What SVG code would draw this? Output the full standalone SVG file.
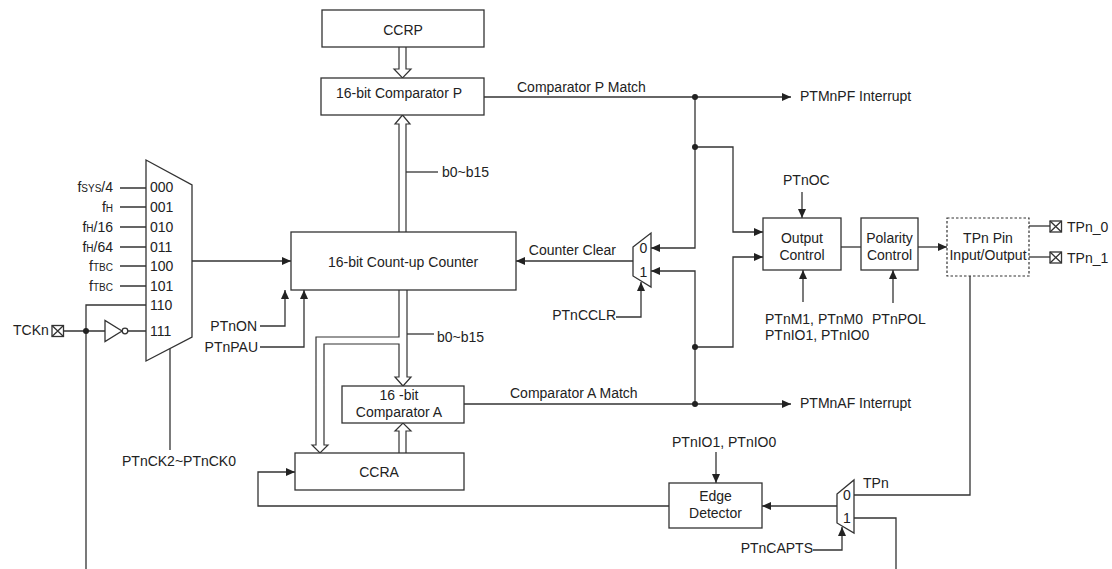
<svg xmlns="http://www.w3.org/2000/svg" width="1112" height="569" viewBox="0 0 1112 569">
<defs>
<marker id="ah" markerUnits="userSpaceOnUse" markerWidth="9" markerHeight="8" refX="9" refY="4" orient="auto">
<path d="M0,0 L9,4 L0,8 z" fill="#222"/>
</marker>
<style>
text{font-family:"Liberation Sans",Arial,sans-serif;font-size:14px;fill:#222}
.sm{font-size:10px}
.box{fill:#fff;stroke:#333;stroke-width:1.3}
.dash{fill:#fff;stroke:#333;stroke-width:1.2;stroke-dasharray:2.5,2}
.w{fill:none;stroke:#333;stroke-width:1.3}
.a{fill:none;stroke:#333;stroke-width:1.3;marker-end:url(#ah)}
.bus{fill:#fff;stroke:#333;stroke-width:1.2}
.dot{fill:#222}
.mid{text-anchor:middle}
.end{text-anchor:end}
</style>
</defs>
<rect width="1112" height="569" fill="#fff"/>

<g id="connectors">
<path class="a" d="M192,261 H291"/>
<path class="a" d="M260,326 H285 V290"/>
<path class="a" d="M260,347 H304 V290"/>
<path class="bus" d="M399,232 V124 H395 L402.5,115 L410,124 H406 V232"/>
<path class="bus" d="M399,47 V69 H394 L402.5,78 L411,69 H406 V47"/>
<path class="w" d="M406,172 H438"/>
<path class="bus" d="M399,290 V337 H316 V445 H312 L320,453 L328,445 H324 V344 H399 V377 H395 L403,386 L411,377 H407 V290"/>
<path class="w" d="M407,334 H434"/>
<path class="bus" d="M399,453 V431 H395 L403,423 L411,431 H406 V453"/>
<path class="a" d="M484,97 H791"/>
<path class="a" d="M464,404 H791"/>
<path class="a" d="M695,97 V248 H651"/>
<path class="a" d="M695,404 V271 H651"/>
<path class="a" d="M695,147 H733 V232 H763"/>
<path class="a" d="M695,347 H733 V257 H763"/>
<path class="a" d="M633,261 H516"/>
<path class="a" d="M616,317 H641 V282"/>
<path class="a" d="M802,192 V218"/>
<path class="a" d="M803,302 V270"/>
<path class="a" d="M893,303 V270"/>
<path class="w" d="M841,247 H861"/>
<path class="a" d="M918,247 H947"/>
<path class="w" d="M1029,226 H1050"/>
<path class="w" d="M1029,257 H1050"/>
<path class="w" d="M970,276 V495 H854"/>
<path class="w" d="M896,569 V518 H854"/>
<path class="a" d="M837,506 H762"/>
<path class="a" d="M716,452 V483"/>
<path class="a" d="M813,550 H842 V527"/>
<path class="a" d="M669,506 H258 V472 H295"/>
<path class="w" d="M120,188 H146 M120,207 H146 M120,227 H146 M120,247 H146 M120,266 H146 M120,286 H146"/>
<path class="w" d="M146,305 H86 V569"/>
<path class="w" d="M64,331 H105 M128,331 H146"/>
<path class="w" d="M170,348.5 V450"/>
<circle class="dot" cx="695" cy="97" r="3"/>
<circle class="dot" cx="695" cy="147" r="3"/>
<circle class="dot" cx="695" cy="347" r="3"/>
<circle class="dot" cx="695" cy="404" r="3"/>
<circle class="dot" cx="86" cy="331" r="3"/>
</g>

<g id="clock-mux">
<polygon class="box" points="146,160 192,185 192,337 146,361"/>
<text x="150" y="192">000</text>
<text x="150" y="212">001</text>
<text x="150" y="232">010</text>
<text x="150" y="252">011</text>
<text x="150" y="271">100</text>
<text x="150" y="291">101</text>
<text x="150" y="310">110</text>
<text x="150" y="336">111</text>
<text class="end" x="113" y="192">f<tspan class="sm">SYS</tspan>/4</text>
<text class="end" x="113" y="212">f<tspan class="sm">H</tspan></text>
<text class="end" x="113" y="232">f<tspan class="sm">H</tspan>/16</text>
<text class="end" x="113" y="252">f<tspan class="sm">H</tspan>/64</text>
<text class="end" x="113" y="271">f<tspan class="sm">TBC</tspan></text>
<text class="end" x="113" y="291">f<tspan class="sm">TBC</tspan></text>
<text class="mid" x="179" y="466">PTnCK2~PTnCK0</text>
</g>

<g id="tckn">
<text x="13" y="335">TCKn</text>
<rect class="box" x="52" y="325.5" width="11.5" height="11"/>
<path class="w" d="M52,325.5 L63.5,336.5 M63.5,325.5 L52,336.5"/>
</g>

<g id="inverter">
<polygon class="box" points="105,320.5 105,341.5 122,331"/>
<circle class="box" cx="125" cy="331" r="2.8"/>
</g>

<g id="ccrp">
<rect class="box" x="322" y="10" width="162" height="37"/>
<text class="mid" x="403" y="35">CCRP</text>
</g>

<g id="comparator-p">
<rect class="box" x="321" y="78" width="163" height="37"/>
<text class="mid" x="399" y="98">16-bit Comparator P</text>
</g>

<g id="counter">
<rect class="box" x="291" y="232" width="225" height="58"/>
<text class="mid" x="403" y="267">16-bit Count-up Counter</text>
</g>

<g id="comparator-a">
<rect class="box" x="342" y="386" width="122" height="37"/>
<text class="mid" x="399" y="400">16 -bit</text>
<text class="mid" x="399" y="417">Comparator A</text>
</g>

<g id="ccra">
<rect class="box" x="295" y="453" width="169" height="37"/>
<text class="mid" x="379" y="477">CCRA</text>
</g>

<g id="clear-mux">
<polygon class="box" points="633,247 651,233 651,287 633,276"/>
<text class="mid" x="643.5" y="253">0</text>
<text class="mid" x="643.5" y="277">1</text>
</g>

<g id="output-control">
<rect class="box" x="763" y="218" width="78" height="52"/>
<text class="mid" x="802" y="243">Output</text>
<text class="mid" x="802" y="260">Control</text>
</g>

<g id="polarity-control">
<rect class="box" x="861" y="218" width="57" height="52"/>
<text class="mid" x="889.5" y="243">Polarity</text>
<text class="mid" x="889.5" y="260">Control</text>
</g>

<g id="tpn-pin">
<rect class="dash" x="947" y="218" width="82" height="58"/>
<text class="mid" x="988" y="243">TPn Pin</text>
<text class="mid" x="988" y="260">Input/Output</text>
</g>

<g id="tpn0">
<rect class="box" x="1050" y="221" width="11.5" height="11"/>
<path class="w" d="M1050,221 L1061.5,232 M1061.5,221 L1050,232"/>
<text x="1067" y="232">TPn_0</text>
</g>

<g id="tpn1">
<rect class="box" x="1050" y="252" width="11.5" height="11"/>
<path class="w" d="M1050,252 L1061.5,263 M1061.5,252 L1050,263"/>
<text x="1067" y="263">TPn_1</text>
</g>

<g id="capture-mux">
<polygon class="box" points="837,494 854,480 854,533 837,523"/>
<text class="mid" x="847" y="500">0</text>
<text class="mid" x="847" y="523">1</text>
</g>

<g id="edge-detector">
<rect class="box" x="669" y="483" width="93" height="45"/>
<text class="mid" x="715.5" y="501">Edge</text>
<text class="mid" x="715.5" y="518">Detector</text>
</g>

<g id="labels">
<text x="517" y="92">Comparator P Match</text>
<text x="510" y="398">Comparator A  Match</text>
<text x="800" y="101">PTMnPF Interrupt</text>
<text x="800" y="408">PTMnAF Interrupt</text>
<text x="442" y="177">b0~b15</text>
<text x="437" y="342">b0~b15</text>
<text class="end" x="616" y="255">Counter Clear</text>
<text class="end" x="616" y="320">PTnCCLR</text>
<text class="end" x="257" y="331">PTnON</text>
<text class="end" x="258" y="352">PTnPAU</text>
<text x="783" y="185">PTnOC</text>
<text x="765" y="324">PTnM1, PTnM0</text>
<text x="765" y="340">PTnIO1, PTnIO0</text>
<text x="872" y="324">PTnPOL</text>
<text x="672" y="447">PTnIO1, PTnIO0</text>
<text x="863" y="488">TPn</text>
<text class="end" x="813" y="553">PTnCAPTS</text>
</g>
</svg>
